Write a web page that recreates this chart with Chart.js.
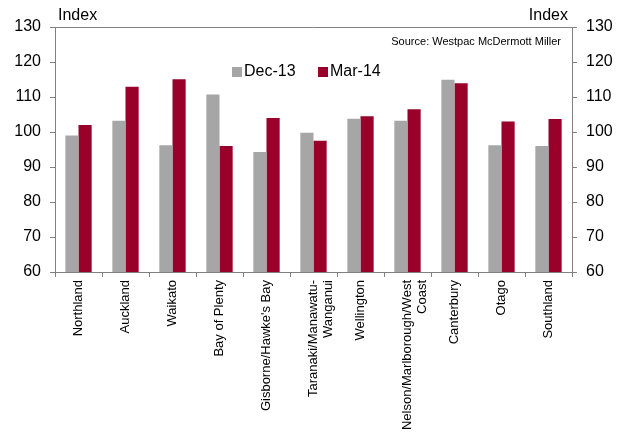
<!DOCTYPE html>
<html>
<head>
<meta charset="utf-8">
<script src="https://cdn.jsdelivr.net/npm/chart.js@4/dist/chart.umd.min.js"></script>
<style>
  html, body { margin: 0; padding: 0; background: #fff; }
  #wrap { width: 626px; height: 434px; position: relative; }
</style>
</head>
<body>
<div id="wrap"><canvas id="chart"></canvas></div>
<script>
// Regionen
const regions = [
    'Northland', 'Auckland', 'Waikato', 'Bay of Plenty', 'Gisborne/Hawke\'s Bay',
    ['Taranaki/Manawatu-', 'Wanganui'], 'Wellington', ['Nelson/Marlborough/West', 'Coast'],
    'Canterbury', 'Otago', 'Southland'
];

// Indexwerte
const dec13 = [99, 103.2, 96.2, 110.7, 94.3, 99.8, 103.8, 103.2, 114.9, 96.2, 96];
const mar14 = [102, 112.9, 115.1, 96, 104, 97.5, 104.5, 106.5, 113.9, 103, 103.7];

const yTicks = [60, 70, 80, 90, 100, 110, 120, 130];

const axisColor = '#808080';
const fontFamily = '"Liberation Sans", Arial, sans-serif';

// Beschriftungen, Legende und obere Linie
const extras = {
    id: 'extras',
    afterDraw(chart) {
        const ctx = chart.ctx;
        const area = chart.chartArea;
        ctx.save();
        ctx.strokeStyle = axisColor;
        ctx.lineWidth = 1;
        ctx.beginPath();
        ctx.moveTo(area.left, Math.round(area.top) + 0.5);
        ctx.lineTo(area.right, Math.round(area.top) + 0.5);
        ctx.stroke();

        ctx.fillStyle = '#000';
        ctx.font = '16px ' + fontFamily;
        ctx.textBaseline = 'middle';
        ctx.textAlign = 'left';
        ctx.fillText('Index', 58, 16);
        ctx.textAlign = 'right';
        ctx.fillText('Index', 568, 16);

        ctx.font = '11px ' + fontFamily;
        ctx.fillText('Source: Westpac McDermott Miller', 561, 42);

        // Legende
        const legendX = [232, 318];
        ctx.font = '16px ' + fontFamily;
        ctx.textAlign = 'left';
        chart.data.datasets.forEach((ds, i) => {
            ctx.fillStyle = ds.backgroundColor;
            ctx.fillRect(legendX[i], 67, 10, 10);
            ctx.fillStyle = '#000';
            ctx.fillText(ds.label, legendX[i] + 12, 72);
        });
        ctx.restore();
    }
};

const yAxis = (position) => ({
    position: position,
    min: 60,
    max: 130,
    afterBuildTicks: (axis) => { axis.ticks = yTicks.map(v => ({ value: v })); },
    afterFit: (axis) => { axis.width = position === 'left' ? 55 : 54; },
    grid: { drawOnChartArea: false, color: axisColor, tickLength: 5 },
    border: { color: axisColor },
    ticks: { color: '#000', font: { size: 16, family: fontFamily }, padding: 9 }
});

new Chart(document.getElementById('chart'), {
    type: 'bar',
    data: {
        labels: regions,
        datasets: [
            { label: 'Dec-13', data: dec13, backgroundColor: '#A6A6A6', yAxisID: 'y' },
            { label: 'Mar-14', data: mar14, backgroundColor: '#99002A', yAxisID: 'y' }
        ]
    },
    options: {
        responsive: true,
        maintainAspectRatio: false,
        animation: false,
        events: [],
        layout: { padding: { top: 27, right: 0, left: 0, bottom: 0 } },
        datasets: { bar: { categoryPercentage: 0.56, barPercentage: 1.0 } },
        plugins: { legend: { display: false }, tooltip: { enabled: false } },
        scales: {
            x: {
                afterFit: (axis) => { axis.height = 162; },
                grid: { drawOnChartArea: false, color: axisColor, tickLength: 5, offset: true },
                border: { color: axisColor },
                ticks: {
                    color: '#000',
                    font: { size: 13, family: fontFamily, lineHeight: 1.15 },
                    maxRotation: 90, minRotation: 90, padding: 3, autoSkip: false
                }
            },
            y: yAxis('left'),
            y2: yAxis('right')
        }
    },
    plugins: [extras]
});
</script>
</body>
</html>
